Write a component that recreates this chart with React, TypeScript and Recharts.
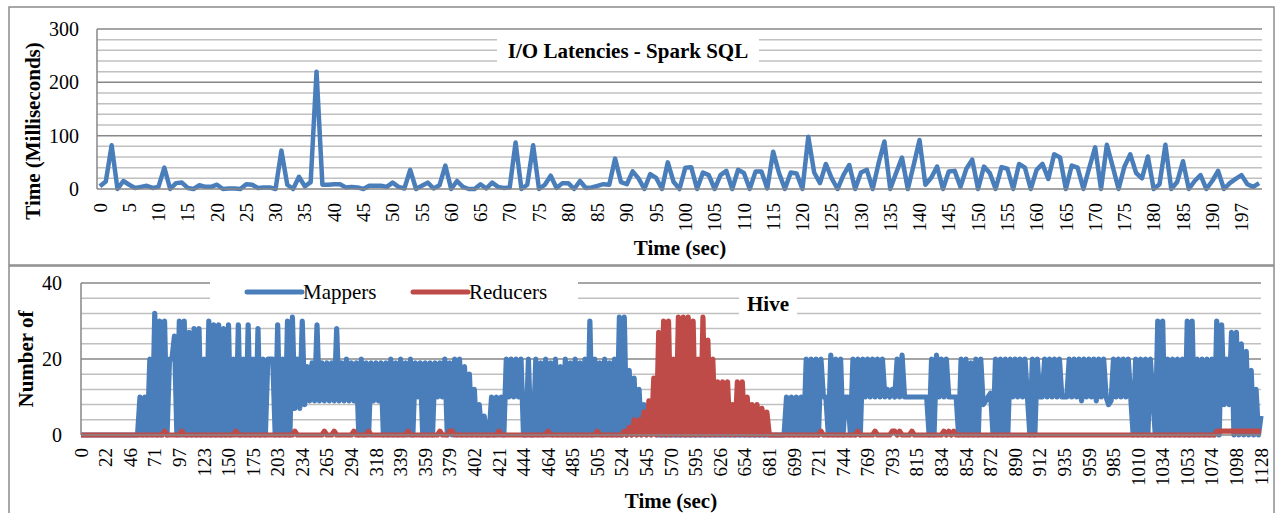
import React from 'react';
import { LineChart, Line, XAxis, YAxis, CartesianGrid, Legend } from 'recharts';

const FONT = '"Liberation Serif", "Times New Roman", serif';
const BLUE = '#4a7ebb';
const RED = '#be4b48';

const sparkTickLabels = ['0','5','10','15','20','25','30','35','40','45','50','55','60','65','70','75','80','85','90','95','100','105','110','115','120','125','130','135','140','145','150','155','160','165','170','175','180','185','190','197'];

const sparkLatency = [
  5,14,82,0,15,8,2,4,6,2,
  4,40,0,11,12,2,0,7,4,4,
  8,0,1,1,0,9,8,2,3,3,
  0,72,8,0,23,5,13,220,8,8,
  9,9,3,4,3,0,6,6,6,4,
  12,4,1,36,0,6,12,1,7,44,
  0,15,4,0,0,9,1,12,4,2,
  3,87,0,8,82,0,8,25,2,11,
  11,0,15,2,3,6,9,8,57,13,
  9,33,20,0,28,21,0,50,13,0,
  40,41,0,31,26,0,26,34,0,36,
  30,0,33,33,1,70,30,0,31,29,
  0,98,31,11,47,20,0,26,45,0,
  31,36,0,48,89,0,30,59,0,45,
  92,8,21,42,0,33,34,4,38,55,
  0,42,30,0,41,38,0,47,40,0,
  36,47,19,65,59,0,44,40,0,40,
  78,0,83,42,0,42,65,30,20,61,
  0,9,83,0,13,52,0,15,26,0,
  15,34,0,11,19,26,9,4,11
];

const hiveTickLabels = ['0','22','46','71','97','123','150','175','203','234','265','294','318','339','359','379','402','421','444','464','485','505','524','545','570','595','626','654','681','699','721','744','769','793','815','834','854','872','890','912','935','959','985','1010','1034','1053','1074','1098','1128'];

const mappers = [
  0,0,0,0,0,0,0,0,0,0,
  0,0,0,0,0,0,0,0,0,0,
  0,0,0,0,10,0,10,0,20,0,
  32,0,30,0,30,0,20,20,26,0,
  30,0,30,0,27,0,28,0,28,0,
  20,0,30,0,29,0,29,0,28,0,
  29,0,20,0,29,0,20,0,29,0,
  20,0,28,0,20,0,20,20,20,0,
  29,0,20,0,30,0,31,7,20,7,
  30,8,18,9,19,9,29,9,19,9,
  19,9,19,9,28,9,19,9,20,9,
  19,9,19,0,20,0,19,0,19,9,
  19,9,19,0,19,0,20,0,19,0,
  20,0,19,0,20,0,19,10,19,0,
  19,0,19,0,19,10,19,10,20,0,
  19,0,20,0,20,0,18,0,16,0,
  12,0,8,0,5,0,0,10,0,10,
  0,10,0,20,10,20,10,20,10,20,
  0,0,20,0,0,20,0,19,0,20,
  0,19,0,20,0,18,0,20,0,19,
  0,20,0,19,0,20,0,30,0,20,
  0,19,0,20,0,19,0,20,0,31,
  0,31,0,17,0,15,0,12,0,8,
  0,6,0,3,0,0,0,0,0,0,
  0,0,0,0,0,0,0,0,0,0,
  0,0,0,0,0,0,0,0,0,0,
  0,0,0,0,0,0,0,0,0,0,
  0,0,0,0,0,0,0,0,0,0,
  0,0,0,0,0,0,0,10,0,10,
  0,10,0,10,0,20,0,20,0,20,
  0,20,10,10,0,21,0,20,0,20,
  0,10,10,0,20,0,20,0,20,10,
  20,10,20,10,20,10,20,10,12,10,
  12,10,20,10,21,10,10,10,10,10,
  10,10,10,10,10,0,20,0,21,10,
  20,10,20,10,10,10,10,0,20,0,
  20,0,19,0,20,0,20,8,9,10,
  11,0,20,0,20,0,20,0,20,10,
  20,10,20,10,20,10,0,20,0,20,
  10,10,20,10,20,10,20,10,20,10,
  10,10,20,10,20,10,20,9,20,10,
  20,10,20,9,20,10,20,10,8,9,
  20,10,20,10,20,10,20,10,0,20,
  0,20,0,20,0,20,10,0,30,0,
  30,0,20,0,20,0,20,0,20,0,
  30,0,30,0,20,0,20,0,20,0,
  20,0,30,0,29,8,20,8,27,0,
  27,0,24,0,22,0,17,0,12,0,
  5
];

const reducers = [
  0,0,0,0,0,0,0,0,0,0,
  0,0,0,0,0,0,0,0,0,0,
  0,0,0,0,0,0,0,0,0,0,
  0,0,0,0,1,0,0,0,0,0,
  0,1,0,0,0,0,0,0,0,0,
  0,0,0,0,0,0,0,0,0,0,
  0,0,0,1,0,0,0,0,0,0,
  0,0,0,0,0,0,0,0,0,0,
  0,0,0,0,0,0,0,1,0,0,
  0,0,0,0,0,0,0,0,0,1,
  0,0,0,1,0,0,0,0,0,0,
  0,1,0,0,0,0,0,1,0,0,
  0,0,0,0,0,0,0,0,0,0,
  0,0,0,1,0,0,0,0,0,0,
  0,0,0,0,0,0,1,0,0,0,
  1,1,0,0,0,0,0,0,0,0,
  0,0,0,0,0,0,0,0,0,0,
  1,0,0,0,0,0,0,0,0,0,
  0,0,0,0,0,0,0,0,0,0,
  1,0,0,0,0,0,0,0,0,0,
  0,0,0,0,0,0,0,0,0,0,
  1,0,0,0,0,0,0,0,0,0,
  0,1,0,2,0,4,0,4,0,6,
  0,9,0,15,0,27,0,30,0,30,
  0,20,0,31,0,31,0,31,0,30,
  0,20,0,31,0,25,0,20,0,14,
  0,14,0,14,0,8,0,14,0,14,
  0,10,0,8,0,8,0,7,0,6,
  0,0,0,0,0,0,0,0,0,0,
  0,0,0,0,0,0,0,0,0,0,
  0,1,0,0,0,0,0,0,0,0,
  0,0,0,0,0,0,1,0,0,0,
  0,0,0,1,0,0,0,0,0,0,
  1,1,0,1,0,0,0,0,1,0,
  0,0,0,0,0,0,0,0,0,0,
  0,1,0,1,0,1,0,0,0,0,
  0,0,0,0,0,0,0,0,0,0,
  0,0,0,0,0,0,0,0,0,0,
  0,0,0,0,0,0,0,0,0,0,
  0,0,0,0,0,0,0,0,0,0,
  0,0,0,0,0,0,0,0,0,0,
  0,0,0,0,0,0,0,0,0,0,
  0,0,0,0,0,0,0,0,0,0,
  0,0,0,0,0,0,0,0,0,0,
  0,0,0,0,0,0,0,0,0,0,
  0,0,0,0,0,0,0,0,0,0,
  0,0,1,1,1,1,1,1,1,1,
  1,1,1,1,1,1,1,1,1,1,
  1
];

const sparkTicks = sparkTickLabels.map((_, k) => k * 5);
const hiveTicks = hiveTickLabels.map((_, k) => k * 10);
const sparkData = sparkLatency.map((v, i) => ({ i, latency: v }));
const hiveData = mappers.map((m, j) => ({ j, Mappers: m, Reducers: reducers[j] }));

const sparkMinor = [20, 40, 60, 80, 120, 140, 160, 180, 220, 240, 260, 280];
const sparkMajor = [100, 200, 300];
const hiveMinor = [4, 8, 12, 16, 24, 28, 32, 36];
const hiveMajor = [20, 40];

const MINOR = '#c0c0c0';
const MAJOR = '#878787';

function makeTick(labels: string[], step: number) {
  return (props: any) => {
    const { x, y, payload } = props;
    const lbl = labels[Math.round(payload.value / step)];
    return (
      <text
        x={x}
        y={y}
        transform={`rotate(-90, ${x}, ${y})`}
        textAnchor="end"
        dy="0.35em"
        fontSize={19}
        fontFamily={FONT}
        fill="#000"
      >
        {lbl}
      </text>
    );
  };
}

const SparkTick = makeTick(sparkTickLabels, 5);
const HiveTick = makeTick(hiveTickLabels, 10);

const LegendContent = (props: any) => {
  const { payload } = props;
  return (
    <div style={{ width: 368, height: 29, background: '#fff', position: 'relative' }}>
      <svg width={368} height={29}>
        {(payload || []).map((p: any, k: number) => {
          const x0 = k === 0 ? 37 : 203;
          return (
            <g key={p.value}>
              <line x1={x0} y1={15} x2={x0 + 55} y2={15} stroke={p.color} strokeWidth={5} strokeLinecap="round" />
              <text x={x0 + 56} y={22} fontSize={21} fontFamily={FONT} fill="#000">{p.value}</text>
            </g>
          );
        })}
      </svg>
    </div>
  );
};

export default function App() {
  return (
    <div style={{ position: 'absolute', left: 0, top: 0, width: 1276, height: 513, background: '#fff', overflow: 'hidden' }}>
      <div style={{ position: 'absolute', left: 0, top: 0 }}>
        <LineChart width={1276} height={266} data={sparkData} margin={{ top: 29, right: 14, bottom: 37, left: 0 }}>
          <CartesianGrid vertical={false} horizontalValues={sparkMinor} stroke={MINOR} strokeWidth={1.5} />
          <CartesianGrid vertical={false} horizontalValues={sparkMajor} stroke={MAJOR} strokeWidth={1.5} />
          <XAxis
            type="number"
            dataKey="i"
            domain={[-0.5, 198.5]}
            ticks={sparkTicks}
            interval={0}
            tick={SparkTick}
            tickLine={false}
            tickSize={0}
            tickMargin={14}
            height={40}
            axisLine={{ stroke: MAJOR, strokeWidth: 1.5 }}
          />
          <YAxis
            domain={[0, 300]}
            ticks={[0, 100, 200, 300]}
            interval={0}
            width={97}
            tickLine={false}
            tickSize={0}
            tickMargin={18}
            axisLine={{ stroke: MAJOR, strokeWidth: 1.5 }}
            tick={{ fontSize: 20, fontFamily: FONT, fill: '#000' }}
          />
          <Line type="linear" dataKey="latency" stroke={BLUE} strokeWidth={4.5} strokeLinejoin="round" dot={false} isAnimationActive={false} />
        </LineChart>
      </div>
      <div style={{ position: 'absolute', left: 0, top: 266 }}>
        <LineChart width={1276} height={247} data={hiveData} margin={{ top: 17, right: 15, bottom: 18, left: 0 }}>
          <CartesianGrid vertical={false} horizontalValues={hiveMinor} stroke={MINOR} strokeWidth={1.5} />
          <CartesianGrid vertical={false} horizontalValues={hiveMajor} stroke={MAJOR} strokeWidth={1.5} />
          <XAxis
            type="number"
            dataKey="j"
            domain={[0, 480]}
            ticks={hiveTicks}
            interval={0}
            tick={HiveTick}
            tickLine={false}
            tickSize={0}
            tickMargin={13}
            height={60}
            axisLine={{ stroke: MAJOR, strokeWidth: 1.5 }}
          />
          <YAxis
            domain={[0, 40]}
            ticks={[0, 20, 40]}
            interval={0}
            width={81}
            tickLine={false}
            tickSize={0}
            tickMargin={19}
            axisLine={{ stroke: MAJOR, strokeWidth: 1.5 }}
            tick={{ fontSize: 20, fontFamily: FONT, fill: '#000' }}
          />
          <Legend
            layout="horizontal"
            verticalAlign="middle"
            align="center"
            content={LegendContent}
            wrapperStyle={{ left: 210, top: 11, width: 368, height: 29 }}
          />
          <Line type="linear" dataKey="Mappers" stroke={BLUE} strokeWidth={5.2} strokeLinejoin="round" dot={false} isAnimationActive={false} />
          <Line type="linear" dataKey="Reducers" stroke={RED} strokeWidth={5.2} strokeLinejoin="round" dot={false} isAnimationActive={false} />
        </LineChart>
      </div>
      <svg width={1276} height={513} style={{ position: 'absolute', left: 0, top: 0, pointerEvents: 'none' }}>
        <rect x={9} y={7} width={1265} height={258} fill="none" stroke="#8c8c8c" strokeWidth={1.5} />
        <rect x={9} y={266} width={1265} height={260} fill="none" stroke="#8c8c8c" strokeWidth={1.5} />
        <rect x={497} y={33} width={262} height={34} fill="#fff" />
        <text x={628} y={58} textAnchor="middle" fontSize={21} fontWeight="bold" fontFamily={FONT} fill="#000">I/O Latencies - Spark SQL</text>
        <text x={680} y={255} textAnchor="middle" fontSize={21} fontWeight="bold" fontFamily={FONT} fill="#000">Time (sec)</text>
        <text x={0} y={0} transform="translate(40, 131) rotate(-90)" textAnchor="middle" fontSize={21} fontWeight="bold" fontFamily={FONT} fill="#000">Time (Milliseconds)</text>
        <rect x={739} y={290} width={58} height={29} fill="#fff" />
        <text x={768} y={311} textAnchor="middle" fontSize={21} fontWeight="bold" fontFamily={FONT} fill="#000">Hive</text>
        <text x={671} y={508} textAnchor="middle" fontSize={21} fontWeight="bold" fontFamily={FONT} fill="#000">Time (sec)</text>
        <text x={0} y={0} transform="translate(33, 359) rotate(-90)" textAnchor="middle" fontSize={21} fontWeight="bold" fontFamily={FONT} fill="#000">Number of</text>
      </svg>
    </div>
  );
}
